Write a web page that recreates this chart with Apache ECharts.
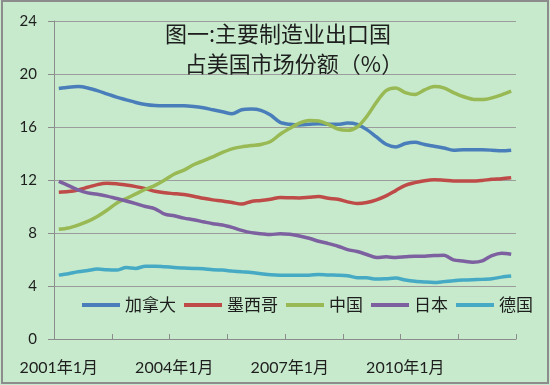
<!DOCTYPE html>
<html>
<head>
<meta charset="utf-8">
<script src="https://cdn.jsdelivr.net/npm/echarts@6/dist/echarts.min.js"></script>
<style>
html,body{margin:0;padding:0;background:#ffffff;}
#chart{width:550px;height:385px;}
</style>
</head>
<body>
<div id="chart"></div>
<script>
const categories = [
 '2001年1月','2001年4月','2001年7月','2001年10月',
 '2002年1月','2002年4月','2002年7月','2002年10月',
 '2003年1月','2003年4月','2003年7月','2003年10月',
 '2004年1月','2004年4月','2004年7月','2004年10月',
 '2005年1月','2005年4月','2005年7月','2005年10月',
 '2006年1月','2006年4月','2006年7月','2006年10月',
 '2007年1月','2007年4月','2007年7月','2007年10月',
 '2008年1月','2008年4月','2008年7月','2008年10月',
 '2009年1月','2009年4月','2009年7月','2009年10月',
 '2010年1月','2010年4月','2010年7月','2010年10月',
 '2011年1月','2011年4月','2011年7月','2011年10月',
 '2012年1月','2012年4月','2012年7月','2012年10月'
];
const seriesNames = ['加拿大','墨西哥','中国','日本','德国'];
const canada = [18.9,19.0,19.05,18.95,18.75,18.5,18.25,18.05,17.85,17.7,17.62,17.6,17.6,17.6,17.55,17.45,
 17.3,17.15,17.0,17.3,17.35,17.25,16.9,16.35,16.2,16.15,16.2,16.25,16.2,16.2,16.3,16.2,
 15.8,15.25,14.7,14.5,14.75,14.85,14.68,14.55,14.42,14.25,14.28,14.28,14.28,14.25,14.2,14.25];
const mexico = [11.08,11.13,11.25,11.45,11.65,11.75,11.72,11.62,11.5,11.35,11.15,11.03,10.97,10.9,10.78,10.62,
 10.5,10.42,10.3,10.18,10.38,10.45,10.55,10.67,10.66,10.65,10.7,10.76,10.62,10.55,10.35,10.23,
 10.3,10.5,10.8,11.2,11.6,11.8,11.95,12.02,11.98,11.93,11.92,11.92,11.97,12.05,12.1,12.17];
const china = [8.28,8.38,8.6,8.88,9.25,9.72,10.25,10.6,10.95,11.3,11.6,12.0,12.45,12.75,13.15,13.45,
 13.75,14.08,14.35,14.5,14.6,14.68,14.9,15.45,15.9,16.3,16.5,16.45,16.2,15.85,15.75,16.0,
 16.8,17.87,18.75,18.95,18.6,18.45,18.8,19.05,18.95,18.6,18.3,18.1,18.07,18.2,18.42,18.7];
const japan = [11.9,11.58,11.25,11.03,10.93,10.78,10.6,10.42,10.22,10.0,9.83,9.42,9.3,9.12,9.0,8.85,
 8.7,8.6,8.42,8.2,8.03,7.95,7.88,7.95,7.9,7.78,7.6,7.38,7.2,7.0,6.75,6.6,
 6.38,6.15,6.2,6.15,6.2,6.25,6.25,6.3,6.33,5.97,5.88,5.8,5.9,6.3,6.48,6.4];
const germany = [4.82,4.93,5.07,5.17,5.28,5.22,5.2,5.4,5.33,5.5,5.5,5.45,5.4,5.35,5.32,5.3,
 5.22,5.2,5.13,5.07,5.02,4.93,4.85,4.82,4.82,4.82,4.82,4.87,4.83,4.82,4.78,4.63,
 4.62,4.52,4.55,4.6,4.45,4.35,4.3,4.27,4.33,4.4,4.45,4.48,4.5,4.55,4.67,4.75];
const titleLines = ['图一:主要制造业出口国','占美国市场份额（%）'];
const yTicks = [0,4,8,12,16,20,24];

const colors = ['#4A7EBB','#BE4B48','#98B954','#7D60A0','#46AAC5'];
const allData = [canada, mexico, china, japan, germany];
const labelFont = 'Lato, "Noto Sans CJK SC", sans-serif';
const cjkFont = '"Noto Sans CJK SC", sans-serif';

const chart = echarts.init(document.getElementById('chart'), null, {renderer:'canvas'});
chart.setOption({
  backgroundColor: '#C6EACB',
  animation: false,
  color: colors,
  title: [
    {text: titleLines[0], left: 278, top: 34, textAlign: 'center', textVerticalAlign: 'middle', padding: 0,
     textStyle: {fontFamily: cjkFont, fontSize: 22, fontWeight: 'normal', color: '#1e1e1e'}},
    {text: titleLines[1], left: 294, top: 64, textAlign: 'center', textVerticalAlign: 'middle', padding: 0,
     textStyle: {fontFamily: cjkFont, fontSize: 22, fontWeight: 'normal', color: '#1e1e1e'}}
  ],
  legend: {
    data: seriesNames,
    left: 82, top: 295, padding: 0,
    icon: 'rect', itemWidth: 38, itemHeight: 4, itemGap: 8,
    textStyle: {fontFamily: cjkFont, fontSize: 17, color: '#1e1e1e', lineHeight: 20}
  },
  grid: {left: 54, right: 34, top: 21, bottom: 46},
  xAxis: {
    type: 'category', data: categories, boundaryGap: true,
    axisLine: {lineStyle: {color: '#8c8c8c', width: 1}},
    axisTick: {show: true, inside: true, length: 5, interval: 5, lineStyle: {color: '#8c8c8c'}},
    axisLabel: {interval: 11, margin: 21, fontFamily: labelFont, fontSize: 16, color: '#1e1e1e'},
    splitLine: {show: false}
  },
  yAxis: {
    type: 'value', min: yTicks[0], max: yTicks[yTicks.length-1], interval: 4,
    axisLine: {show: true, lineStyle: {color: '#8c8c8c', width: 1}},
    axisTick: {show: true, inside: false, length: 6, lineStyle: {color: '#8c8c8c'}},
    axisLabel: {margin: 17, fontFamily: labelFont, fontSize: 15, color: '#1e1e1e'},
    splitLine: {show: true, lineStyle: {color: '#9c9c9c', width: 1}}
  },
  graphic: [{
    type: 'rect', shape: {x: 2, y: 1, width: 546, height: 382},
    style: {fill: 'none', stroke: '#8c8c8c', lineWidth: 2}, silent: true, z: 100
  }],
  series: seriesNames.map((n, i) => ({
    name: n, type: 'line', data: allData[i], symbol: 'none', smooth: 0.3,
    lineStyle: {width: 3.5, color: colors[i]}, itemStyle: {color: colors[i]}
  }))
});
</script>
</body>
</html>
